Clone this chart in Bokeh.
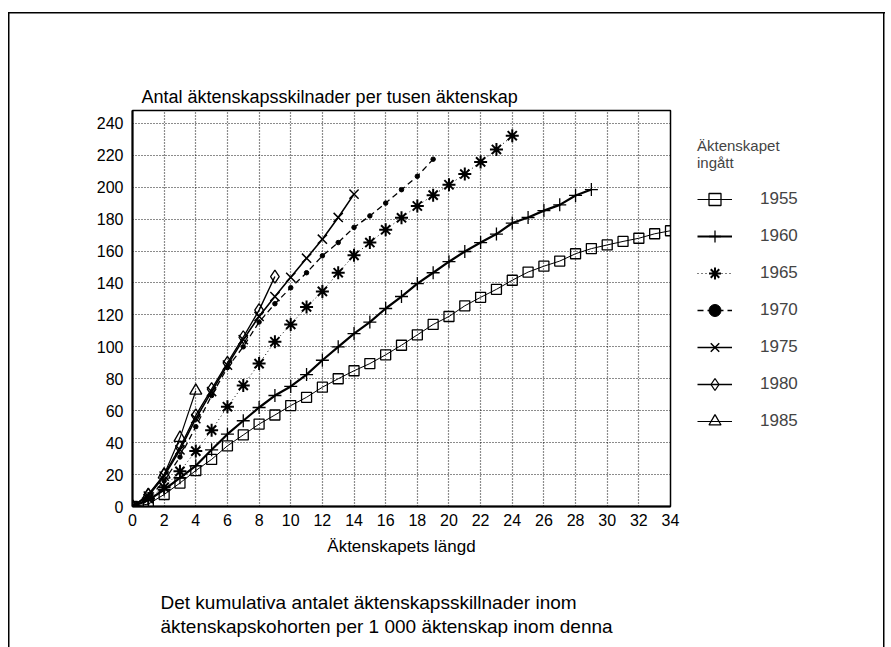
from bokeh.plotting import figure
from bokeh.models import Legend, LegendItem, Title, FixedTicker, Range1d
from bokeh.embed import file_html
from bokeh.resources import INLINE

# ---- data ----
c1955 = [0, 1.5, 7.5, 14.7, 22.5, 29.5, 38, 44.8, 51.6, 57.3, 63.2, 68.4, 74.7, 80, 85,
         89.5, 95, 101, 107.5, 114, 119, 125.7, 131, 136, 141.7, 146.8, 150.5, 153.7,
         158.3, 161.5, 163.8, 166, 168, 170.8, 172.7]
c1960 = [0, 4, 10.5, 18, 25.5, 35.5, 45.3, 53.7, 62, 69.5, 75.2, 82.6, 91.6, 100, 108.3,
         115.5, 124, 131.5, 139.6, 146.4, 153.3, 159.7, 165.3, 170.6, 177.5, 181, 185.3,
         188.9, 194.8, 198.5]
c1965 = [0, 5, 12, 22, 34.7, 47.8, 62.5, 75.8, 89.5, 103.2, 114, 125, 134.7, 146.4, 157.3,
         165.3, 173.3, 180.8, 188.2, 195, 201.5, 208.2, 215.8, 223.6, 232.2]
c1970 = [0, 5, 16, 31, 50, 69.5, 87, 100, 115.5, 127, 137, 146.4, 157, 165.3, 174.8, 182,
         190, 198.4, 206.8, 217.5]
c1975 = [0, 6.5, 19, 35.5, 55, 72, 88.5, 104.5, 119, 131.5, 143.5, 155.5, 167.4, 181, 195.6]
c1980 = [0, 7.5, 20, 37, 57, 73.5, 90, 106, 123, 144]
c1985 = [0, 7, 20, 43, 72.5]

cohort_labels = ["1955", "1960", "1965", "1970", "1975", "1980", "1985"]
cohort_values = [c1955, c1960, c1965, c1970, c1975, c1980, c1985]
x_ticks = list(range(0, 35, 2))
y_ticks = list(range(0, 241, 20))

y_title = "Antal äktenskapsskilnader per tusen äktenskap"
x_title = "Äktenskapets längd"
legend_title = "Äktenskapet\ningått"
note_text = ("Det kumulativa antalet äktenskapsskillnader inom\n"
             "äktenskapskohorten per 1 000 äktenskap inom denna")

FONT = "Liberation Sans"

# styles per cohort: (line_width, line_dash, marker, size, marker_line_width, fill)
styles = [
    (1.0, "solid", "square", 10, 1.3, None),
    (2.2, "solid", "cross", 13, 1.3, None),
    (1.0, "1 3", "asterisk", 13, 2.0, None),
    (1.3, "6 4", "circle", 4.5, 1.0, "black"),
    (1.6, "solid", "x", 13, 1.5, None),
    (1.4, "solid", "diamond", 13, 1.3, None),
    (1.2, "solid", "triangle", 12, 1.3, None),
]

p = figure(frame_width=538, frame_height=396, output_backend="svg", toolbar_location=None,
           x_range=Range1d(0, 34), y_range=Range1d(0, 248),
           min_border_left=132, min_border_right=215, min_border_top=110,
           min_border_bottom=135)

items = []
for lab, vals, st in zip(cohort_labels, cohort_values, styles):
    lw, dash, marker, size, mlw, fill = st
    xs = list(range(len(vals)))
    r1 = p.line(xs, vals, line_color="black", line_width=lw, line_dash=dash)
    r2 = p.scatter(xs, vals, marker=marker, size=size, line_color="black",
                   line_width=mlw, fill_color=fill)
    items.append(LegendItem(label=lab, renderers=[r1, r2]))

# axes
p.xaxis.ticker = FixedTicker(ticks=x_ticks)
p.yaxis.ticker = FixedTicker(ticks=y_ticks)
for ax in (p.xaxis[0], p.yaxis[0]):
    ax.major_tick_out = 0
    ax.major_tick_in = 0
    ax.minor_tick_out = 0
    ax.minor_tick_in = 0
    ax.axis_line_width = 2
    ax.axis_line_color = "black"
    ax.major_label_text_font = FONT
    ax.major_label_text_font_size = "16px"
    ax.major_label_text_color = "black"
p.xaxis.major_label_standoff = 7
p.yaxis.major_label_standoff = 9
p.xaxis.axis_label = x_title
p.xaxis.axis_label_text_font = FONT
p.xaxis.axis_label_text_font_size = "17px"
p.xaxis.axis_label_text_font_style = "normal"
p.xaxis.axis_label_text_color = "black"
p.xaxis.axis_label_standoff = 8

for g in (p.xgrid[0], p.ygrid[0]):
    g.grid_line_color = "black"
    g.grid_line_dash = "1 2"
    g.grid_line_width = 1.2
    g.grid_line_alpha = 0.9

p.outline_line_color = "black"
p.outline_line_width = 1.5
p.background_fill_color = "white"
p.border_fill_color = "white"
p.border_fill_alpha = 0

# title above the frame (y-axis description)
p.title.text = y_title
p.title.align = "left"
p.title.offset = 9
p.title.text_font = FONT
p.title.text_font_size = "18px"
p.title.text_font_style = "normal"
p.title.text_color = "black"
p.title.standoff = 7

legend = Legend(items=items, location="top_left", glyph_width=35, glyph_height=30,
                label_height=30, spacing=7, label_standoff=28, padding=0, margin=27,
                border_line_color=None, background_fill_alpha=0,
                label_text_font=FONT, label_text_font_size="17px",
                title=legend_title, title_text_font=FONT, title_text_font_size="15px",
                title_text_font_style="normal", title_standoff=13)
p.add_layout(legend, "right")

# note below the x axis
p.add_layout(Title(text=note_text, align="left", offset=28, text_font=FONT,
                   text_font_size="19px", text_font_style="normal", text_color="black",
                   text_line_height=1.15, standoff=64), "below")

# outer frame of the figure page (top, left and right rules)
p.styles = {
    "background-color": "white",
    "background-image": "linear-gradient(black, black), linear-gradient(black, black), "
                        "linear-gradient(black, black)",
    "background-size": "877px 1.5px, 1.5px 640px, 1.5px 640px",
    "background-position": "8px 12px, 8px 12px, 883px 12px",
    "background-repeat": "no-repeat",
}

open("out.html", "w").write(file_html(p, INLINE))
